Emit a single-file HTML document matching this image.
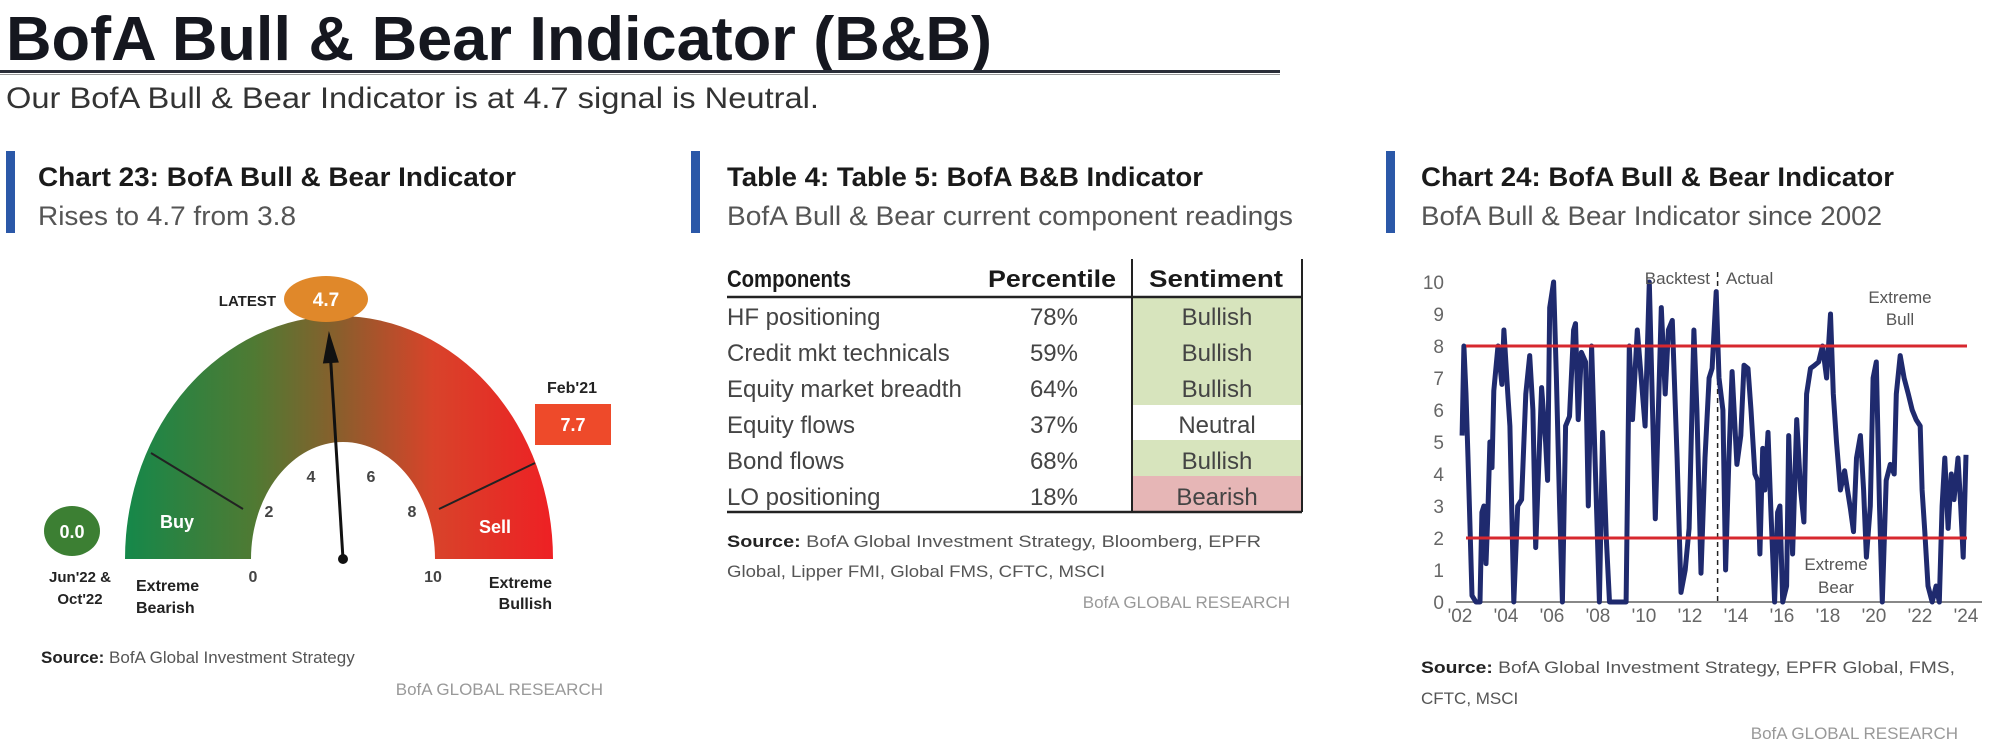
<!DOCTYPE html>
<html><head><meta charset="utf-8"><style>
html,body{margin:0;padding:0;background:#fff;}
svg{display:block;font-family:"Liberation Sans",sans-serif;}
</style></head><body>
<svg id="page" width="1999" height="748" viewBox="0 0 1999 748" xmlns="http://www.w3.org/2000/svg">
<defs>
<linearGradient id="gg" x1="125" y1="0" x2="553" y2="0" gradientUnits="userSpaceOnUse">
<stop offset="0" stop-color="#15884a"/><stop offset="0.3" stop-color="#4f7a33"/><stop offset="0.5" stop-color="#8a5e2c"/><stop offset="0.72" stop-color="#d8432a"/><stop offset="1" stop-color="#ee2024"/>
</linearGradient>
</defs>
<!-- header -->
<text x="6" y="60" font-size="62" font-weight="bold" fill="#15171f" textLength="986" lengthAdjust="spacingAndGlyphs">BofA Bull &amp; Bear Indicator (B&amp;B)</text>
<rect x="0" y="70" width="1280" height="3" fill="#2a2d38"/>
<rect x="0" y="74" width="1280" height="1" fill="#999"/>
<text x="6" y="108" font-size="30" fill="#333" textLength="813" lengthAdjust="spacingAndGlyphs">Our BofA Bull &amp; Bear Indicator is at 4.7 signal is Neutral.</text>

<!-- section headers -->
<rect x="6" y="151" width="9" height="82" fill="#2b58a8"/>
<text x="38" y="186" font-size="27" font-weight="bold" fill="#1a1a1a" textLength="478" lengthAdjust="spacingAndGlyphs">Chart 23: BofA Bull &amp; Bear Indicator</text>
<text x="38" y="225" font-size="27" fill="#555" textLength="258" lengthAdjust="spacingAndGlyphs">Rises to 4.7 from 3.8</text>

<rect x="691" y="151" width="9" height="82" fill="#2b58a8"/>
<text x="727" y="186" font-size="27" font-weight="bold" fill="#1a1a1a" textLength="476" lengthAdjust="spacingAndGlyphs">Table 4: Table 5: BofA B&amp;B Indicator</text>
<text x="727" y="225" font-size="27" fill="#555" textLength="566" lengthAdjust="spacingAndGlyphs">BofA Bull &amp; Bear current component readings</text>

<rect x="1386" y="151" width="9" height="82" fill="#2b58a8"/>
<text x="1421" y="186" font-size="27" font-weight="bold" fill="#1a1a1a" textLength="473" lengthAdjust="spacingAndGlyphs">Chart 24: BofA Bull &amp; Bear Indicator</text>
<text x="1421" y="225" font-size="27" fill="#555" textLength="461" lengthAdjust="spacingAndGlyphs">BofA Bull &amp; Bear Indicator since 2002</text>

<!-- gauge -->
<g id="gauge">
<path d="M125,559 A214,243 0 0 1 553,559 L435,559 A92,117 0 0 0 251,559 Z" fill="url(#gg)"/>
<line x1="151" y1="453" x2="243" y2="509" stroke="#222" stroke-width="2"/>
<line x1="439" y1="509" x2="535" y2="463" stroke="#222" stroke-width="2"/>
<text x="177" y="528" font-size="18" font-weight="bold" fill="#fff" text-anchor="middle">Buy</text>
<text x="495" y="533" font-size="18" font-weight="bold" fill="#fff" text-anchor="middle">Sell</text>
<g font-size="16" font-weight="bold" fill="#444" text-anchor="middle">
<text x="253" y="582">0</text>
<text x="269" y="517">2</text>
<text x="311" y="482">4</text>
<text x="371" y="482">6</text>
<text x="412" y="517">8</text>
<text x="433" y="582">10</text>
</g>
<line id="needle" x1="343" y1="559" x2="330" y2="345" stroke="#111" stroke-width="3"/>
<polygon id="needlehead" points="330,328 322,360 338,360" fill="#111"/>
<circle cx="343" cy="559" r="5" fill="#111"/>
<text x="276" y="306" font-size="15" font-weight="bold" fill="#222" text-anchor="end">LATEST</text>
<ellipse cx="326" cy="299" rx="42" ry="23" fill="#e0882a"/>
<text x="326" y="306" font-size="19" font-weight="bold" fill="#fff" text-anchor="middle">4.7</text>
<text x="572" y="393" font-size="16" font-weight="bold" fill="#222" text-anchor="middle">Feb'21</text>
<rect x="535" y="404" width="76" height="41" fill="#ee4a2a"/>
<text x="573" y="431" font-size="18" font-weight="bold" fill="#fff" text-anchor="middle">7.7</text>
<ellipse cx="72" cy="531" rx="28" ry="25" fill="#3c7f33"/>
<text x="72" y="538" font-size="18" font-weight="bold" fill="#fff" text-anchor="middle">0.0</text>
<text x="80" y="582" font-size="15" font-weight="bold" fill="#222" text-anchor="middle">Jun'22 &amp;</text>
<text x="80" y="604" font-size="15" font-weight="bold" fill="#222" text-anchor="middle">Oct'22</text>
<text x="136" y="591" font-size="16" font-weight="bold" fill="#222">Extreme</text>
<text x="136" y="613" font-size="16" font-weight="bold" fill="#222">Bearish</text>
<text x="552" y="588" font-size="16" font-weight="bold" fill="#222" text-anchor="end">Extreme</text>
<text x="552" y="609" font-size="16" font-weight="bold" fill="#222" text-anchor="end">Bullish</text>
</g>
<text x="41" y="663" font-size="17" fill="#555"><tspan font-weight="bold" fill="#222">Source:</tspan>  BofA Global Investment Strategy</text>
<text x="603" y="695" font-size="17" fill="#999" text-anchor="end">BofA GLOBAL RESEARCH</text>

<!-- table -->
<g id="table">
<rect x="1132" y="297" width="170" height="108" fill="#d7e4bd"/>
<rect x="1132" y="440" width="170" height="36" fill="#d7e4bd"/>
<rect x="1132" y="476" width="170" height="36" fill="#e6b6b6"/>
<line x1="1132" y1="259" x2="1132" y2="512" stroke="#222" stroke-width="2"/>
<line x1="1302" y1="259" x2="1302" y2="512" stroke="#222" stroke-width="2"/>
<line x1="727" y1="297" x2="1302" y2="297" stroke="#222" stroke-width="2.5"/>
<line x1="727" y1="512" x2="1302" y2="512" stroke="#222" stroke-width="2.5"/>
<text x="727" y="287" font-size="24" font-weight="bold" fill="#1a1a1a" textLength="124" lengthAdjust="spacingAndGlyphs">Components</text>
<text x="988" y="287" font-size="24" font-weight="bold" fill="#1a1a1a" textLength="128" lengthAdjust="spacingAndGlyphs">Percentile</text>
<text x="1149" y="287" font-size="24" font-weight="bold" fill="#1a1a1a" textLength="134" lengthAdjust="spacingAndGlyphs">Sentiment</text>
<g id="rows" font-size="24" fill="#444"></g>
</g>
<text x="727" y="547" font-size="17" fill="#555" textLength="534" lengthAdjust="spacingAndGlyphs"><tspan font-weight="bold" fill="#222">Source:</tspan>  BofA Global Investment Strategy, Bloomberg, EPFR</text>
<text x="727" y="577" font-size="17" fill="#555" textLength="378" lengthAdjust="spacingAndGlyphs">Global, Lipper FMI, Global FMS, CFTC, MSCI</text>
<text x="1290" y="608" font-size="17" fill="#999" text-anchor="end">BofA GLOBAL RESEARCH</text>

<!-- line chart -->
<g id="lc"></g>
<text x="1421" y="673" font-size="17" fill="#555" textLength="534" lengthAdjust="spacingAndGlyphs"><tspan font-weight="bold" fill="#222">Source:</tspan>  BofA Global Investment Strategy, EPFR Global, FMS,</text>
<text x="1421" y="704" font-size="17" fill="#555">CFTC, MSCI</text>
<text x="1958" y="739" font-size="17" fill="#999" text-anchor="end">BofA GLOBAL RESEARCH</text>
</svg>
<script>
const tableComponents=["HF positioning","Credit mkt technicals","Equity market breadth","Equity flows","Bond flows","LO positioning"];
const tablePercentiles=["78%","59%","64%","37%","68%","18%"];
const tableSentiments=["Bullish","Bullish","Bullish","Neutral","Bullish","Bearish"];

const years=[2002.09,2002.17,2002.26,2002.35,2002.52,2002.69,2002.87,2002.95,2003.04,2003.13,2003.21,2003.30,2003.39,2003.47,2003.65,2003.82,2003.91,2004.08,2004.17,2004.34,2004.51,2004.68,2004.86,2005.03,2005.17,2005.29,2005.46,2005.55,2005.72,2005.81,2005.90,2006.07,2006.19,2006.33,2006.45,2006.59,2006.76,2006.94,2007.02,2007.14,2007.28,2007.46,2007.58,2007.72,2007.89,2008.06,2008.20,2008.36,2008.50,2008.84,2009.22,2009.36,2009.50,2009.71,2009.88,2010.05,2010.23,2010.49,2010.75,2010.92,2011.06,2011.23,2011.44,2011.61,2011.79,2011.96,2012.17,2012.30,2012.48,2012.65,2012.83,2012.96,2013.14,2013.26,2013.43,2013.55,2013.69,2013.83,2014.04,2014.21,2014.35,2014.52,2014.65,2014.82,2014.94,2015.04,2015.16,2015.25,2015.39,2015.51,2015.68,2015.81,2015.91,2016.03,2016.20,2016.29,2016.46,2016.64,2016.81,2016.95,2017.07,2017.24,2017.42,2017.59,2017.76,2017.94,2018.11,2018.23,2018.37,2018.54,2018.72,2018.85,2018.98,2019.11,2019.24,2019.41,2019.55,2019.67,2019.84,2019.96,2020.10,2020.24,2020.36,2020.53,2020.71,2020.88,2020.97,2021.14,2021.31,2021.49,2021.66,2021.83,2022.01,2022.09,2022.21,2022.35,2022.53,2022.70,2022.84,2022.96,2023.08,2023.22,2023.36,2023.48,2023.65,2023.77,2023.88,2024.00];
const values=[5.2,8.0,6.5,4.5,0.2,0,0,2.8,3,1.2,2.7,5,4.2,6.6,8,6.8,8.5,6.5,5.5,0,3,3.2,6.5,7.7,6,1.7,5,6.7,5,3.8,9.2,10,7,3,0,5.5,5.8,8.5,8.7,5.7,7.8,7.5,3,8.0,4,0,5.3,2,0,0,0,8,5.7,8.5,7,5.5,10,2.6,9.2,6.5,8.5,8.8,4.5,0.3,1,2.3,8.5,6,0.9,4.5,7,7.3,9.7,7,6,1,4.5,7.2,4.3,5.2,7.4,7.3,6,4,3.8,1.5,4.8,3.5,5.3,3,0,2.8,3,0,0.5,5.2,1.5,5.7,3.5,2.5,6.5,7.3,7.4,7.5,8.0,7.0,9,6.5,5,3.5,4.1,3.5,2.9,2.2,4.5,5.2,3.5,1.4,3,7,7.5,3,0,3.8,4.3,4,6.5,7.7,7,6.5,6,5.7,5.5,3.5,2.2,0.5,0,0.5,0,3,4.5,2.3,4,3.2,4.5,3,1.4,4.6];
const yTicks=[0,1,2,3,4,5,6,7,8,9,10];
const xTickYears=[2002,2004,2006,2008,2010,2012,2014,2016,2018,2020,2022,2024];
const xTickLabels=["'02","'04","'06","'08","'10","'12","'14","'16","'18","'20","'22","'24"];
const thresholds=[8,2];
const actualStartYear=2013.2;
const latestReading=4.7;

const NS="http://www.w3.org/2000/svg";
function mk(tag,attrs,parent,txt){const e=document.createElementNS(NS,tag);for(const k in attrs)e.setAttribute(k,attrs[k]);if(txt!==undefined)e.textContent=txt;parent.appendChild(e);return e;}

// table rows
const rows=document.getElementById('rows');
for(let i=0;i<tableComponents.length;i++){
  const y=297+36*i+28;
  const a=mk('text',{x:727,y:y},rows,tableComponents[i]);
  
  
  const b=mk('text',{x:1078,y:y,'text-anchor':'end'},rows,tablePercentiles[i]);
  
  
  const c=mk('text',{x:1217,y:y,'text-anchor':'middle'},rows,tableSentiments[i]);
  
  
}

// needle from latest reading
(function(){
  const th=Math.PI*(1-latestReading/10);
  const tx=343+150*Math.cos(th), ty=559-229*Math.sin(th);
  const n=document.getElementById('needle');
  const ang=Math.atan2(ty-559,tx-343);
  n.setAttribute('x2',tx-16*Math.cos(ang)); n.setAttribute('y2',ty-16*Math.sin(ang));
  const px=-Math.sin(ang),py=Math.cos(ang);
  const bx=tx-32*Math.cos(ang),by=ty-32*Math.sin(ang);
  document.getElementById('needlehead').setAttribute('points',`${tx},${ty} ${bx+8*px},${by+8*py} ${bx-8*px},${by-8*py}`);
})();

// line chart
const lc=document.getElementById('lc');
const X=yr=>1460+(yr-2002)*23;
const Y=v=>602-v*32;
for(const t of yTicks){
  const e=mk('text',{x:1444,y:Y(t)+7,'font-size':19,fill:'#666','text-anchor':'end'},lc,String(t));
  
  
}
for(let i=0;i<xTickYears.length;i++){
  const e=mk('text',{x:X(xTickYears[i]),y:622,'font-size':19,fill:'#666','text-anchor':'middle'},lc,xTickLabels[i]);
  
  
}
const ax=mk('line',{x1:1456,y1:Y(0),x2:1982,y2:Y(0),stroke:'#888','stroke-width':2},lc);


const dl=mk('line',{x1:X(actualStartYear),y1:272,x2:X(actualStartYear),y2:Y(0),stroke:'#222','stroke-width':1.5,'stroke-dasharray':'5,4'},lc);


const pts=years.map((yr,i)=>X(yr).toFixed(1)+','+Y(values[i]).toFixed(1)).join(' ');
const pl=mk('polyline',{points:pts,fill:'none',stroke:'#1f2a6e','stroke-width':5,'stroke-linejoin':'round'},lc);


for(const t of thresholds){
  const l=mk('line',{x1:1466,y1:Y(t),x2:1967,y2:Y(t),stroke:'#d7282f','stroke-width':3},lc);
  
  
}
const labels=[["Backtest",1710,284,'end'],["Actual",1726,284,'start'],["Extreme",1900,303,'middle'],["Bull",1900,325,'middle'],["Extreme",1836,570,'middle'],["Bear",1836,593,'middle']];
for(const [s,x,y,a] of labels){
  const e=mk('text',{x:x,y:y,'font-size':17,fill:'#555','text-anchor':a},lc,s);
  
  
}
</script>
</body></html>
